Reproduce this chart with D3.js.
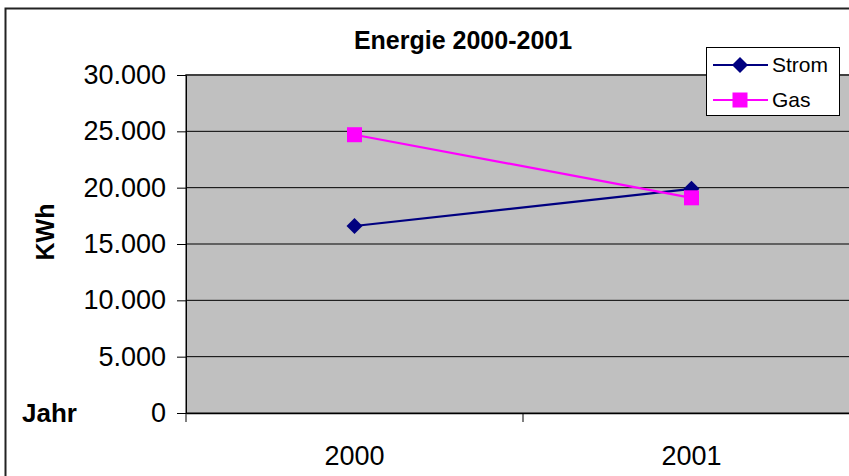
<!DOCTYPE html>
<html><head><meta charset="utf-8">
<script src="https://cdn.jsdelivr.net/npm/d3@7"></script>
<style>
html,body{margin:0;padding:0;background:#fff;overflow:hidden;}
text{font-family:"Liberation Sans",Arial,sans-serif;}
</style></head>
<body><svg id="c" width="849" height="476"></svg>
<script>
const categories = ["2000", "2001"];
const stromValues = [16600, 19900];
const gasValues = [24700, 19100];
const yTicks = [0, 5000, 10000, 15000, 20000, 25000, 30000];
const seriesNames = ["Strom", "Gas"];
const seriesColors = ["#000080", "#ff00ff"];

const svg = d3.select("#c");
const L = 186, R = 860, T = 75, B = 413;

// outer chart border
svg.append("rect").attr("x", 5.5).attr("y", 8.5).attr("width", 900).attr("height", 500)
  .attr("fill", "#fff").attr("stroke", "#222").attr("stroke-width", 2);

const x = d3.scaleBand().domain(categories).range([L, R]);
const y = d3.scaleLinear().domain([0, 30000]).range([B, T]);

// plot area
svg.append("rect").attr("x", L).attr("y", T).attr("width", R - L).attr("height", B - T)
  .attr("fill", "#c0c0c0").attr("stroke", "#808080").attr("stroke-width", 2);

// gridlines
svg.append("g").selectAll("line").data(yTicks.filter(d => d > 0)).join("line")
  .attr("x1", L).attr("x2", R).attr("y1", d => y(d)).attr("y2", d => y(d))
  .attr("stroke", "#000").attr("stroke-width", 1);

const fmt = d => d3.format(",")(d).replace(/,/g, ".");
const yAxis = svg.append("g").attr("transform", `translate(${L},0)`)
  .call(d3.axisLeft(y).tickValues(yTicks).tickFormat(fmt).tickSize(9).tickPadding(11));
yAxis.select(".domain").attr("stroke", "#000");
yAxis.selectAll("text").attr("font-size", 27).attr("fill", "#000");

const xAxis = svg.append("g").attr("transform", `translate(0,${B})`)
  .call(d3.axisBottom(x).tickSize(0).tickPadding(33));
xAxis.select(".domain").attr("stroke", "#000").attr("stroke-width", 1.5);
xAxis.selectAll("text").attr("font-size", 27).attr("fill", "#000");
// category separators
const edges = categories.map(c => x(c)).concat([x(categories[categories.length - 1]) + x.bandwidth()]);
svg.append("g").selectAll("line").data(edges).join("line")
  .attr("x1", d => d).attr("x2", d => d)
  .attr("y1", B).attr("y2", B + 9).attr("stroke", "#000");

const cx = d => x(d) + x.bandwidth() / 2;
const line = d3.line().x(d => cx(d.c)).y(d => y(d.v));
const series = [stromValues, gasValues].map((vals, i) => ({
  name: seriesNames[i], color: seriesColors[i],
  pts: categories.map((c, j) => ({ c, v: vals[j] }))
}));

function diamond(g, px, py, r, color) {
  g.append("path").attr("d", `M${px},${py - r}L${px + r},${py}L${px},${py + r}L${px - r},${py}Z`)
    .attr("fill", color);
}
function square(g, px, py, r, color) {
  g.append("rect").attr("x", px - r).attr("y", py - r).attr("width", 2 * r).attr("height", 2 * r)
    .attr("fill", color);
}

series.forEach(s => {
  svg.append("path").attr("d", line(s.pts)).attr("fill", "none")
    .attr("stroke", s.color).attr("stroke-width", 2.2);
});
series.forEach((s, i) => {
  const g = svg.append("g");
  s.pts.forEach(p => {
    if (i === 0) diamond(g, cx(p.c), y(p.v), 8, s.color);
    else square(g, cx(p.c), y(p.v), 7.5, s.color);
  });
});

// title
svg.append("text").attr("x", 463).attr("y", 49).attr("text-anchor", "middle")
  .attr("font-size", 25).attr("font-weight", "bold").text("Energie 2000-2001");

// axis titles
svg.append("text").attr("transform", "translate(54,232) rotate(-90)").attr("text-anchor", "middle")
  .attr("font-size", 25).attr("font-weight", "bold").text("KWh");
svg.append("text").attr("x", 22).attr("y", 422)
  .attr("font-size", 26).attr("font-weight", "bold").text("Jahr");

// legend
const lg = svg.append("g");
lg.append("rect").attr("x", 706.5).attr("y", 47.5).attr("width", 133).attr("height", 68)
  .attr("fill", "#fff").attr("stroke", "#000");
series.forEach((s, i) => {
  const ly = 65 + i * 35;
  lg.append("line").attr("x1", 713).attr("x2", 768).attr("y1", ly).attr("y2", ly)
    .attr("stroke", s.color).attr("stroke-width", 2.2);
  if (i === 0) diamond(lg, 740, ly, 8, s.color);
  else square(lg, 740, ly, 7.5, s.color);
  lg.append("text").attr("x", 772).attr("y", ly + 7).attr("font-size", 21).text(s.name);
});
</script></body></html>
